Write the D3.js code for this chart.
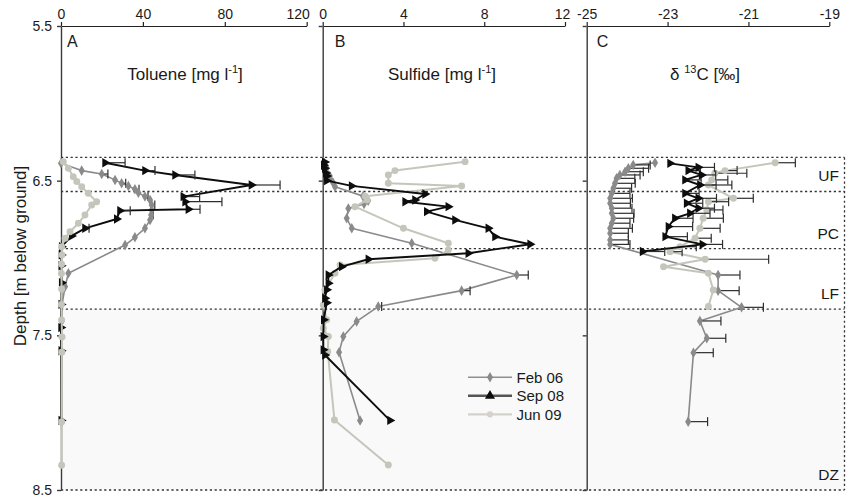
<!DOCTYPE html>
<html>
<head>
<meta charset="utf-8">
<script src="https://cdn.jsdelivr.net/npm/d3@7"></script>
<style>
  body { margin: 0; background: #fff; }
  text { font-family: "Liberation Sans", Arial, sans-serif; fill: #1a1a1a; }
</style>
</head>
<body>
<svg id="chart" width="850" height="499"></svg>
<script>
// ---- Depth profiles (m below ground) ----
// Panel A: toluene [mg/l]
const febDepthA   = [6.388, 6.435, 6.457, 6.495, 6.517, 6.534, 6.556, 6.578, 6.603, 6.625, 6.657, 6.689, 6.722, 6.754, 6.808, 6.866, 6.916, 7.099, 7.185, 7.30, 7.41, 7.51, 7.61, 8.06];
const febToluene  = [0, 10.1, 19.9, 26.4, 29.6, 32.9, 36.1, 37.8, 41, 43.5, 44.3, 44.3, 44, 43.5, 41, 36.1, 31.3, 3.6, 2.0, 0.5, 0.3, 0.2, 0.3, 0.2];
const febTolErr   = [0, 0, 3, 0, 2, 0, 2, 0, 1.5, 0, 1.5, 0, 1, 0, 0, 0, 0, 0, 0, 0, 0, 0, 0, 0];

const sepDepthA   = [6.384, 6.435, 6.463, 6.528, 6.603, 6.636, 6.685, 6.694, 6.748, 6.808, 6.857, 6.927, 6.98, 7.05, 7.16, 7.30, 7.45, 7.60, 8.05];
const sepToluene  = [21.5, 41, 55.7, 93, 59.7, 60.6, 62.2, 28.8, 27.2, 11.7, 5.2, 0.3, 0.2, 0.1, 0.3, 0.1, 0, 0.1, 0.1];
const sepTolErr   = [9.8, 4.9, 9.7, 14, 8, 18, 5.7, 5, 0, 2, 0, 0, 0, 0, 0, 0, 0, 0, 0];

const junDepthA   = [6.377, 6.42, 6.474, 6.506, 6.539, 6.582, 6.636, 6.657, 6.722, 6.775, 6.83, 6.872, 6.927, 6.98, 7.04, 7.10, 7.20, 7.30, 7.40, 7.51, 7.61, 8.06, 8.34];
const junToluene  = [1.1, 3.6, 6, 7.7, 10.1, 13.3, 17.4, 15, 11.7, 8.5, 4.4, 2, 0.3, 0.5, 0.3, 0.2, 0.3, 0.2, 0.3, 0.5, 0.4, 0.3, 0.3];

// Panel B: sulfide [mg/l]
const febDepthB   = [6.38, 6.42, 6.47, 6.51, 6.539, 6.60, 6.63, 6.65, 6.68, 6.743, 6.808, 6.905, 7.11, 7.211, 7.314, 7.41, 7.508, 7.61, 8.05];
const febSulfide  = [0.05, 0.2, 0.35, 0.5, 0.61, 2.0, 2.25, 2.05, 1.27, 1.19, 1.44, 4.41, 9.61, 6.88, 2.75, 1.68, 1.02, 0.81, 1.85];
const febSulErr   = [0, 0, 0, 0, 0, 0, 0, 0, 0, 0, 0, 0, 0.57, 0.42, 0.17, 0, 0, 0, 0];

const sepDepthB   = [6.38, 6.40, 6.42, 6.45, 6.47, 6.50, 6.534, 6.586, 6.625, 6.636, 6.668, 6.70, 6.754, 6.808, 6.862, 6.911, 6.969, 7.008, 7.056, 7.11, 7.163, 7.206, 7.26, 7.29, 7.40, 7.508, 7.594, 7.627, 8.05];
const sepSulfide  = [0.1, 0.05, 0.1, 0.15, 0.2, 0.2, 1.43, 5.07, 4.57, 4.08, 6.22, 5.15, 6.55, 8.2, 8.53, 10.27, 7.21, 2.26, 0.94, 0.28, 0.28, 0.2, 0.11, 0.2, 0.05, 0.03, 0.03, 0.11, 3.33];

const junDepthB   = [6.377, 6.435, 6.463, 6.517, 6.534, 6.60, 6.625, 6.668, 6.808, 6.905, 6.948, 7.002, 7.045, 7.099, 7.207, 7.304, 7.40, 7.454, 7.508, 7.605, 8.047, 8.338];
const junSulfide  = [7.05, 3.58, 3.25, 3.25, 6.88, 2.1, 2.2, 1.6, 4.0, 6.22, 6.22, 5.56, 0.86, 0.61, 0.11, 0.03, 0.2, 0.03, 0.28, 0.25, 0.58, 3.25];

// Panel C: delta 13C of toluene [permil]
const febDepthC   = [6.384, 6.398, 6.42, 6.442, 6.463, 6.485, 6.517, 6.549, 6.582, 6.614, 6.646, 6.678, 6.711, 6.743, 6.775, 6.808, 6.84, 6.883, 6.912, 7.11, 7.211, 7.319, 7.407, 7.519, 7.612, 8.058];
const febD13C     = [-23.31, -23.85, -23.97, -24.05, -24.18, -24.26, -24.30, -24.34, -24.38, -24.42, -24.42, -24.38, -24.38, -24.34, -24.38, -24.42, -24.42, -24.42, -24.42, -21.75, -21.75, -21.17, -22.2, -22.03, -22.36, -22.49];
const febD13CErr  = [0, 0.42, 0.5, 0.45, 0.5, 0.45, 0.5, 0.45, 0.45, 0.55, 0.5, 0.5, 0.55, 0.5, 0.45, 0.55, 0.45, 0.45, 0.49, 0.54, 0.52, 0.54, 0.52, 0.47, 0.49, 0.48];

const sepDepthC   = [6.388, 6.414, 6.435, 6.463, 6.495, 6.528, 6.582, 6.614, 6.646, 6.678, 6.711, 6.743, 6.797, 6.862, 6.912, 6.958];
const sepD13C     = [-22.94, -22.24, -22.49, -22.16, -22.57, -22.2, -22.57, -22.24, -22.53, -22.24, -22.45, -22.82, -22.98, -23.06, -22.14, -23.62];
const sepD13CErr  = [0, 0.4, 0.3, 0.35, 0.4, 0.4, 0.35, 0.45, 0.4, 0.4, 0.5, 0.45, 0.6, 0.55, 0.5, 0.55];

const junDepthC   = [6.384, 6.435, 6.452, 6.495, 6.528, 6.614, 6.636, 6.689, 6.743, 6.808, 6.872, 6.927, 6.959, 7.008, 7.056, 7.099, 7.207, 7.314];
const junD13C     = [-20.34, -21.58, -21.83, -21.91, -21.99, -21.37, -21.99, -22.03, -22.12, -22.2, -22.32, -22.69, -22.94, -22.07, -23.1, -21.99, -21.87, -21.99];
const junD13CErr  = [0.5, 0.3, 0.79, 0.4, 0.58, 0.49, 0.5, 0.4, 0.5, 0.5, 0.4, 0.4, 0.3, 1.57, 0, 0, 0, 0];

// Zones: boundaries and names
const zoneBounds  = [6.35, 6.57, 6.94, 7.33, 8.5];
const zoneNames   = ["UF", "PC", "LF", "DZ"];

// Axis ticks and labels
const depthTicks   = [5.5, 6.5, 7.5, 8.5];
const tolueneTicks = [0, 40, 80, 120];
const sulfideTicks = [0, 4, 8, 12];
const d13cTicks    = [-25, -23, -21, -19];
const seriesNames  = ["Feb 06", "Sep 08", "Jun 09"];

// ---- Drawing ----
const svg = d3.select("#chart");

const y  = d3.scaleLinear().domain([5.5, 8.5]).range([26, 490]);
const xA = d3.scaleLinear().domain([0, 120]).range([61, 306.7]);
const xB = d3.scaleLinear().domain([0, 12]).range([322.7, 565]);
const xC = d3.scaleLinear().domain([-25, -19]).range([586.7, 829.3]);

const zoneLeft = 61, zoneRight = 844.5;

// shaded deep zone
svg.append("rect")
  .attr("x", zoneLeft).attr("y", y(zoneBounds[3]))
  .attr("width", zoneRight - zoneLeft).attr("height", y(8.5) - y(zoneBounds[3]))
  .attr("fill", "#f9f9f9");

// dotted zone outlines
const dotted = { stroke: "#333", "stroke-width": 1.3, "stroke-dasharray": "2.2,2.6" };
function applyAttrs(sel, obj) { Object.entries(obj).forEach(([k, v]) => sel.attr(k, v)); return sel; }
zoneBounds.forEach(d => {
  applyAttrs(svg.append("line")
    .attr("x1", zoneLeft).attr("x2", zoneRight)
    .attr("y1", y(d)).attr("y2", y(d)), dotted);
});
applyAttrs(svg.append("line")
  .attr("x1", zoneRight).attr("x2", zoneRight)
  .attr("y1", y(zoneBounds[0])).attr("y2", y(8.5)), dotted);

zoneNames.forEach((n, i) => {
  svg.append("text")
    .attr("x", 839).attr("y", y(zoneBounds[i + 1]) - 10)
    .attr("text-anchor", "end").attr("font-size", 15.5).text(n);
});

// axes; the last label of a panel is nudged left so it clears the next panel's "0"
function topAxis(scale, ticks, lastShift) {
  const g = svg.append("g").attr("transform", "translate(0,26)")
    .call(d3.axisTop(scale).tickValues(ticks).tickSize(4).tickSizeOuter(0).tickPadding(3)
      .tickFormat(d => String(d)));
  g.attr("font-family", null);
  g.selectAll("text").attr("font-size", 14).style("fill", "#1a1a1a");
  g.selectAll(".tick text").filter((d, i) => i === ticks.length - 1).attr("dx", lastShift);
  g.selectAll("line,path").attr("stroke", "#222").attr("stroke-width", 1.2);
}
topAxis(xA, tolueneTicks, -9);
topAxis(xB, sulfideTicks, -3);
topAxis(xC, d13cTicks, 0);

function leftAxis(x0, withLabels) {
  const ax = d3.axisLeft(y).tickValues(depthTicks).tickSize(4).tickSizeOuter(0).tickPadding(5)
    .tickFormat(withLabels ? d3.format(".1f") : () => "");
  const g = svg.append("g").attr("transform", `translate(${x0},0)`).call(ax);
  g.attr("font-family", null);
  g.selectAll("text").attr("font-size", 14).style("fill", "#1a1a1a");
  g.selectAll("line,path").attr("stroke", "#3a3a3a").attr("stroke-width", 1.4);
}
leftAxis(xA(0), true);
leftAxis(xB(0), false);
leftAxis(xC(-25), false);

// panel letters and titles
[["A", xA(0) + 6], ["B", xB(0) + 12], ["C", xC(-25) + 10]].forEach(([t, x]) => {
  svg.append("text").attr("x", x).attr("y", 47).attr("font-size", 16).text(t);
});

function title(cx, parts) {
  const t = svg.append("text").attr("x", cx).attr("y", 80).attr("text-anchor", "middle").attr("font-size", 17);
  parts.forEach(p => {
    const s = t.append("tspan").text(p.t);
    if (p.sup) s.attr("font-size", 11).attr("dy", -7);
    if (p.down) s.attr("dy", 7);
  });
}
title(185, [{ t: "Toluene [mg l" }, { t: "-1", sup: true }, { t: "]", down: true }]);
title(442, [{ t: "Sulfide [mg l" }, { t: "-1", sup: true }, { t: "]", down: true }]);
title(705, [{ t: "δ " }, { t: "13", sup: true }, { t: "C [‰]", down: true }]);

svg.append("text")
  .attr("transform", "translate(26,256) rotate(-90)")
  .attr("text-anchor", "middle").attr("font-size", 17)
  .text("Depth [m below ground]");

// series styles
const styles = {
  feb: { color: "#8a8a8a", width: 1.6, symbol: d3.symbolDiamond, size: 32, rotate: 0 },
  sep: { color: "#0d0d0d", width: 1.9, symbol: d3.symbolTriangle, size: 38, rotate: 90 },
  jun: { color: "#c5c6bb", width: 2.0, symbol: d3.symbolCircle, size: 38, rotate: 0 }
};

function drawSeries(xs, depths, values, errs, st) {
  const pts = depths.map((d, i) => ({ d, v: values[i], e: errs ? errs[i] : 0 }));
  const g = svg.append("g");
  g.append("path").datum(pts)
    .attr("d", d3.line().x(p => xs(p.v)).y(p => y(p.d)))
    .attr("fill", "none").attr("stroke", st.color).attr("stroke-width", st.width)
    .attr("stroke-linejoin", "round");
  const eb = pts.filter(p => p.e > 0);
  g.selectAll("line.err").data(eb).enter().append("line")
    .attr("x1", p => xs(p.v)).attr("x2", p => xs(p.v + p.e))
    .attr("y1", p => y(p.d)).attr("y2", p => y(p.d))
    .attr("stroke", "#2e2e2e").attr("stroke-width", 1.2);
  g.selectAll("line.cap").data(eb).enter().append("line")
    .attr("x1", p => xs(p.v + p.e)).attr("x2", p => xs(p.v + p.e))
    .attr("y1", p => y(p.d) - 4.5).attr("y2", p => y(p.d) + 4.5)
    .attr("stroke", "#2e2e2e").attr("stroke-width", 1.2);
  g.selectAll("path.mk").data(pts).enter().append("path")
    .attr("d", d3.symbol().type(st.symbol).size(st.size))
    .attr("transform", p => `translate(${xs(p.v)},${y(p.d)}) rotate(${st.rotate})`)
    .attr("fill", st.color);
}

drawSeries(xA, febDepthA, febToluene, febTolErr, styles.feb);
drawSeries(xA, sepDepthA, sepToluene, sepTolErr, styles.sep);
drawSeries(xA, junDepthA, junToluene, null, styles.jun);

drawSeries(xB, febDepthB, febSulfide, febSulErr, styles.feb);
drawSeries(xB, junDepthB, junSulfide, null, styles.jun);
drawSeries(xB, sepDepthB, sepSulfide, null, styles.sep);

drawSeries(xC, febDepthC, febD13C, febD13CErr, styles.feb);
drawSeries(xC, junDepthC, junD13C, junD13CErr, styles.jun);
drawSeries(xC, sepDepthC, sepD13C, sepD13CErr, styles.sep);

// legend
const legendStyles = [
  { st: styles.feb, line: "#8f8f8f", w: 1.5, fill: "#8a8a8a", size: 32 },
  { st: styles.sep, line: "#555", w: 2.6, fill: "#0d0d0d", size: 44 },
  { st: styles.jun, line: "#d2d2cc", w: 2.2, fill: "#d8cfcf", size: 30 }
];
seriesNames.forEach((name, i) => {
  const ly = 377.3 + i * 18.5;
  const ls = legendStyles[i];
  svg.append("line").attr("x1", 468).attr("x2", 512).attr("y1", ly).attr("y2", ly)
    .attr("stroke", ls.line).attr("stroke-width", ls.w);
  svg.append("path")
    .attr("d", d3.symbol().type(ls.st.symbol).size(ls.size))
    .attr("transform", `translate(490,${ly})`)
    .attr("fill", ls.fill);
  svg.append("text").attr("x", 516.5).attr("y", ly + 5.3).attr("font-size", 15).text(name);
});
</script>
</body>
</html>
